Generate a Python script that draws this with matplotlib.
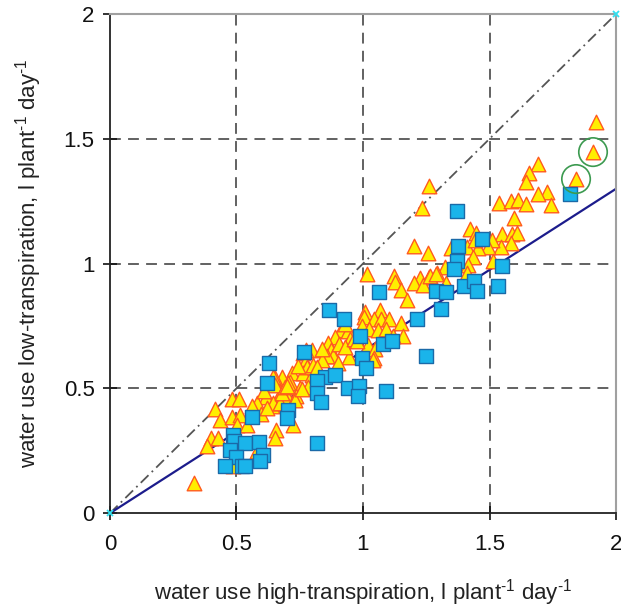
import numpy as np
import matplotlib.pyplot as plt

plt.rcParams['font.family'] = ['Liberation Sans', 'DejaVu Sans']
plt.rcParams['mathtext.fontset'] = 'custom'
plt.rcParams['mathtext.rm'] = 'Liberation Sans'
plt.rcParams['mathtext.it'] = 'Liberation Sans'

# low-transpiration vs high-transpiration water use (l plant-1 day-1)
sq_x = [1.82, 1.37, 1.375, 1.47, 1.37, 1.36, 1.55, 1.40, 1.44, 1.45, 1.535,
        1.29, 1.33, 1.31, 1.065, 0.865, 0.925, 0.99, 1.215, 1.08, 1.115, 1.25,
        0.995, 1.01, 0.85, 0.89, 0.94, 0.985, 0.98, 1.09, 0.82, 0.82, 0.835,
        0.765, 0.63, 0.62, 0.56, 0.705, 0.70, 0.485, 0.49, 0.535, 0.59, 0.475,
        0.50, 0.455, 0.52, 0.535, 0.605, 0.595, 0.82]
sq_y = [1.28, 1.21, 1.07, 1.10, 1.01, 0.98, 0.99, 0.91, 0.93, 0.89, 0.91,
        0.89, 0.885, 0.82, 0.885, 0.815, 0.78, 0.71, 0.78, 0.68, 0.69, 0.63,
        0.62, 0.58, 0.545, 0.555, 0.50, 0.51, 0.47, 0.49, 0.53, 0.48, 0.445,
        0.645, 0.60, 0.52, 0.385, 0.415, 0.38, 0.315, 0.29, 0.28, 0.285, 0.255,
        0.225, 0.19, 0.19, 0.19, 0.235, 0.21, 0.28]

tri_x = [1.921, 1.909, 1.842, 1.692, 1.656, 1.644, 1.727, 1.692, 1.743, 1.538,
         1.585, 1.613, 1.644, 1.261, 1.233, 1.597, 1.423, 1.447, 1.549, 1.589,
         1.609, 1.585, 1.545, 1.510, 1.494, 1.455, 1.411, 1.348, 1.443, 1.435,
         1.415, 1.514, 1.202, 1.257, 1.411, 1.324, 1.292, 1.261, 1.225, 1.123,
         1.126, 1.016, 1.328, 1.150, 1.174, 1.202, 1.237, 1.008, 1.004, 1.067,
         1.043, 1.071, 1.103, 1.150, 0.996, 1.024, 1.059, 0.913, 0.941, 0.949,
         0.889, 0.862, 1.158, 1.020, 1.047, 1.043, 0.874, 0.881, 0.945, 0.858,
         0.838, 0.763, 0.771, 0.719, 0.680, 0.652, 0.711, 0.763, 0.798, 0.751,
         0.783, 0.676, 0.700, 0.735, 0.617, 0.664, 0.640, 0.731, 0.482, 0.510,
         0.581, 0.415, 0.435, 0.482, 0.514, 0.502, 0.542, 0.597, 0.399, 0.427,
         0.383, 0.656, 0.652, 0.723, 0.332, 0.644, 0.672, 0.644, 0.798, 0.775,
         0.779, 0.802, 1.040, 0.652, 0.680, 0.704, 0.759, 0.581, 0.486, 1.265,
         1.289, 0.905, 0.930, 0.965, 0.900, 0.820, 0.840, 0.745, 0.690, 0.610,
         0.560, 0.620, 0.700, 0.930, 0.975, 1.090, 1.120]
tri_y = [1.567, 1.447, 1.339, 1.399, 1.363, 1.327, 1.287, 1.279, 1.234, 1.242,
         1.251, 1.255, 1.238, 1.311, 1.222, 1.182, 1.138, 1.122, 1.118, 1.118,
         1.122, 1.082, 1.066, 1.094, 1.066, 1.062, 1.066, 1.062, 1.094, 1.026,
         0.994, 1.010, 1.070, 1.042, 0.962, 0.986, 0.962, 0.946, 0.942, 0.950,
         0.926, 0.958, 0.922, 0.894, 0.854, 0.922, 0.914, 0.806, 0.786, 0.814,
         0.778, 0.778, 0.778, 0.762, 0.750, 0.737, 0.733, 0.733, 0.729, 0.697,
         0.705, 0.681, 0.709, 0.673, 0.657, 0.621, 0.653, 0.629, 0.625, 0.629,
         0.613, 0.641, 0.605, 0.561, 0.545, 0.541, 0.525, 0.561, 0.553, 0.501,
         0.505, 0.485, 0.469, 0.469, 0.465, 0.437, 0.429, 0.453, 0.457, 0.457,
         0.441, 0.417, 0.373, 0.385, 0.393, 0.353, 0.353, 0.397, 0.301, 0.301,
         0.269, 0.333, 0.301, 0.353, 0.120, 0.441, 0.441, 0.545, 0.653, 0.653,
         0.585, 0.593, 0.613, 0.513, 0.480, 0.521, 0.497, 0.250, 0.190, 0.950,
         0.958, 0.680, 0.665, 0.700, 0.600, 0.585, 0.660, 0.590, 0.505, 0.490,
         0.430, 0.420, 0.510, 0.760, 0.690, 0.740, 0.710]

# two highlighted points (circled)
circ_x = [1.909, 1.842]
circ_y = [1.447, 1.339]

# 1:1 line and fitted line
one_x = [0, 2]
one_y = [0, 2]
fit_slope = 0.65
fit_x = np.array([0, 2])

fig = plt.figure(figsize=(6.21, 6.11), dpi=100)
ax = fig.add_axes([0.177, 0.160, 0.815, 0.817])

ax.plot(one_x, one_y, color='#555555', lw=1.3, ls=(0, (6, 2.5, 1, 2.5)), zorder=2)
ax.plot(one_x, one_y, ls='none', marker='x', color='#33e0f0', ms=5, mew=1.3,
        clip_on=False, zorder=6)
ax.plot(fit_x, fit_slope * fit_x, color='#1c1c8c', lw=1.6, zorder=2.5)

ax.scatter(tri_x, tri_y, marker='^', s=110, facecolor='#ffee00',
           edgecolor='#ff5a20', linewidth=1.0, zorder=3)
ax.scatter(sq_x, sq_y, marker='s', s=105, facecolor='#1ab4ea',
           edgecolor='#1a6aa8', linewidth=1.0, zorder=4)
ax.scatter(circ_x, circ_y, marker='o', s=420, facecolor='none',
           edgecolor='#3c9a50', linewidth=1.2, zorder=5)

ax.set_xlim(0, 2)
ax.set_ylim(0, 2)
ax.set_xticks([0, 0.5, 1, 1.5, 2])
ax.set_yticks([0, 0.5, 1, 1.5, 2])
ax.set_xticklabels(['0', '0.5', '1', '1.5', '2'])
ax.set_yticklabels(['0', '0.5', '1', '1.5', '2'])
ax.tick_params(direction='inout', length=10, width=1.2, labelsize=16,
               colors='#111111', pad=10)
ax.tick_params(axis='y', pad=6)

for v in [0.5, 1, 1.5]:
    ax.axvline(v, color='#555555', lw=1.3, ls=(0, (6, 4)), zorder=1)
    ax.axhline(v, color='#555555', lw=1.3, ls=(0, (6, 4)), zorder=1)

ax.spines['left'].set_color('#222222')
ax.spines['bottom'].set_color('#222222')
ax.spines['left'].set_linewidth(1.3)
ax.spines['bottom'].set_linewidth(1.3)
ax.spines['top'].set_color('#a0a0a0')
ax.spines['right'].set_color('#a0a0a0')
ax.spines['top'].set_linewidth(1.5)
ax.spines['right'].set_linewidth(1.5)

ax.set_xlabel(r'water use high-transpiration, l plant$^{\text{-1}}$ day$^{\text{-1}}$',
              fontsize=16, color='#222222', labelpad=16)
ax.set_ylabel(r'water use low-transpiration, l plant$^{\text{-1}}$ day$^{\text{-1}}$',
              fontsize=16, color='#222222', labelpad=14)

fig.savefig('out.png', dpi=100)
